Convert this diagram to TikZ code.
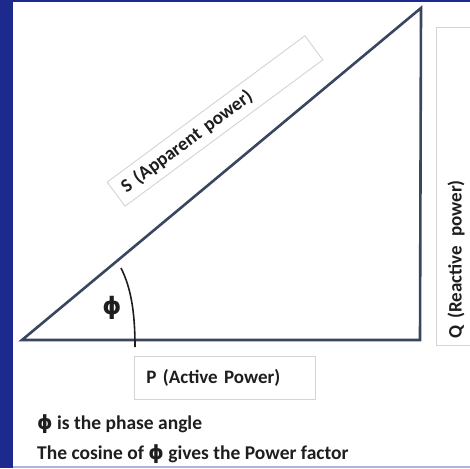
\documentclass[tikz,border=0pt]{standalone}
\usepackage{fontspec}
\setmainfont{Carlito}
\newfontfamily\symfont{DejaVu Sans}
\newcommand{\phisym}{{\symfont\bfseries ϕ}}
\definecolor{frameblue}{HTML}{1B2A8C}
\definecolor{lightline}{HTML}{A9B7D6}
\definecolor{triline}{HTML}{3A4560}
\definecolor{boxgray}{HTML}{D4D4D4}
\definecolor{txt}{HTML}{1E1E1E}
\begin{document}
\begin{tikzpicture}[x=1pt,y=-1pt,
  tri/.style={draw=triline,line width=2.6pt,line join=miter},
  arcline/.style={draw=txt,line width=1.6pt},
  lbox/.style={draw=boxgray,line width=0.9pt,fill=white,text=txt,font=\bfseries\fontsize{19}{21}\selectfont,align=left,inner ysep=0pt},
  note/.style={text=txt,font=\bfseries\fontsize{19.5}{22}\selectfont,anchor=west,inner sep=0pt},
  philabel/.style={text=txt,inner sep=0pt,font=\fontsize{24}{26}\selectfont}]
\useasboundingbox (0,0) rectangle (470,468);
\fill[white] (0,0) rectangle (470,468);
\fill[frameblue] (0,0) rectangle (13,468);
\fill[frameblue] (0,0) rectangle (470,2.5);
\fill[lightline] (13,466) rectangle (470,468);
% label boxes
\node[lbox,rotate=36.5,minimum width=246,minimum height=30,text width=228,inner xsep=9] (S) at (215,121) {S (Apparent power)};
\node[lbox,rotate=90,minimum width=318,minimum height=40,text width=304,inner xsep=7] (Q) at (456,186) {Q (Reactive\hspace{9pt}power)};
\node[lbox,anchor=north west,minimum height=43,text width=157,inner xsep=12] (P) at (134,356) {P (Active Power)};
% triangle
\coordinate (A) at (22,340);
\coordinate (B) at (420,340);
\coordinate (C) at (421,8);
\draw[tri] (A) -- (B) -- (C) -- cycle;
% angle arc
\coordinate (a1) at (121,268);
\coordinate (a2) at (135,347);
\draw[arcline] (a1) .. controls (131,288) and (135,312) .. (a2);
\node[philabel] (ph) at (112,308) {\phisym};
% notes
\node[note] (n1) at (37,424) {\phisym{} is the phase angle};
\node[note] (n2) at (37,454) {The cosine of \phisym{} gives the Power factor};
\end{tikzpicture}
\end{document}
